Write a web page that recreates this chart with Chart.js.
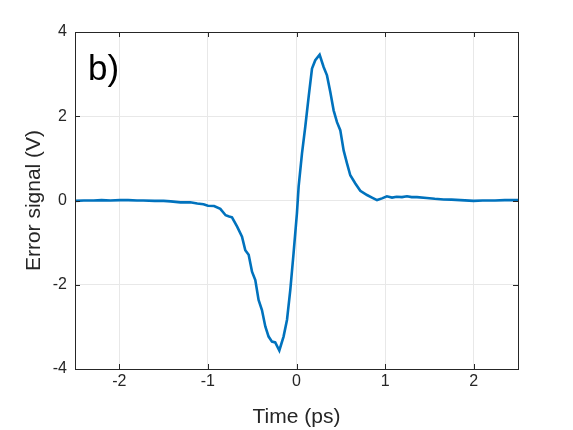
<!DOCTYPE html>
<html>
<head>
<meta charset="utf-8">
<script src="https://cdn.jsdelivr.net/npm/chart.js@4/dist/chart.umd.min.js"></script>
<style>
  html, body { margin: 0; padding: 0; background: #fff; }
  #wrap { width: 573px; height: 430px; }
</style>
</head>
<body>
<div id="wrap"><canvas id="c" width="573" height="430"></canvas></div>
<script>
// Time axis (ps) and error signal (V)
const times = [
  -2.5, -2.4, -2.29, -2.2, -2.1, -1.99, -1.9, -1.8, -1.73, -1.6, -1.5, -1.42, -1.31, -1.2, -1.12, -1.05, -1.0,
  -0.93, -0.86, -0.80, -0.76, -0.728, -0.67, -0.615, -0.578, -0.54, -0.502, -0.465, -0.428, -0.39, -0.352,
  -0.315, -0.277, -0.24, -0.194, -0.146, -0.107, -0.07, -0.033, 0.005, 0.024, 0.062, 0.099, 0.137, 0.175,
  0.212, 0.261, 0.306, 0.344, 0.381, 0.419, 0.457, 0.494, 0.532, 0.57, 0.607, 0.664, 0.72, 0.796, 0.852,
  0.909, 0.965, 1.02, 1.078, 1.13, 1.19, 1.247, 1.3, 1.36, 1.47, 1.56, 1.66, 1.75, 1.85, 2.0, 2.1, 2.24,
  2.35, 2.47, 2.5
];
const signal = [
  -0.01, 0.0, 0.0, 0.01, 0.0, 0.01, 0.01, 0.0, 0.0, -0.01, -0.01, -0.02, -0.045, -0.04, -0.07, -0.09, -0.125,
  -0.13, -0.2, -0.35, -0.38, -0.40, -0.62, -0.86, -1.18, -1.29, -1.69, -1.89, -2.36, -2.6, -2.99,
  -3.23, -3.35, -3.37, -3.56, -3.23, -2.83, -2.12, -1.25, -0.3, 0.33, 1.12, 1.75, 2.46, 3.13,
  3.33, 3.46, 3.17, 2.97, 2.58, 2.14, 1.86, 1.67, 1.19, 0.88, 0.6, 0.405, 0.23, 0.13, 0.07,
  0.01, 0.05, 0.1, 0.07, 0.09, 0.08, 0.1, 0.08, 0.08, 0.06, 0.04, 0.025, 0.02, 0.01, -0.01, 0.0, 0.0,
  0.01, 0.01, 0.01
];
const xTicks = [-2, -1, 0, 1, 2];
const yTicks = [-4, -2, 0, 2, 4];

const axisColor = '#262626';
const font = 'Liberation Sans, Arial, Helvetica, sans-serif';

// MATLAB-style box with inward ticks, plus the panel label
const boxPlugin = {
  id: 'box',
  afterDraw(chart) {
    const { ctx, chartArea: a, scales: { x, y } } = chart;
    ctx.save();
    ctx.strokeStyle = axisColor;
    ctx.lineWidth = 1;
    ctx.strokeRect(Math.round(a.left) + 0.5, Math.round(a.top) + 0.5,
      Math.round(a.right - a.left), Math.round(a.bottom - a.top));
    ctx.beginPath();
    xTicks.forEach(v => {
      const px = Math.round(x.getPixelForValue(v)) + 0.5;
      ctx.moveTo(px, a.bottom); ctx.lineTo(px, a.bottom - 5);
      ctx.moveTo(px, a.top); ctx.lineTo(px, a.top + 5);
    });
    yTicks.forEach(v => {
      const py = Math.round(y.getPixelForValue(v)) + 0.5;
      ctx.moveTo(a.left, py); ctx.lineTo(a.left + 5, py);
      ctx.moveTo(a.right, py); ctx.lineTo(a.right - 5, py);
    });
    ctx.stroke();
    ctx.fillStyle = '#000';
    ctx.font = '35px ' + font;
    ctx.textBaseline = 'alphabetic';
    ctx.fillText('b)', a.left + 13, a.top + 48);
    ctx.restore();
  }
};

new Chart(document.getElementById('c'), {
  type: 'line',
  data: {
    datasets: [{
      data: times.map((t, i) => ({ x: t, y: signal[i] })),
      borderColor: '#0072BD',
      borderWidth: 2.6,
      pointRadius: 0,
      tension: 0,
      fill: false
    }]
  },
  options: {
    responsive: false,
    animation: false,
    layout: { padding: { top: 32, right: 55, bottom: 0, left: 0 } },
    plugins: { legend: { display: false }, tooltip: { enabled: false } },
    scales: {
      x: {
        type: 'linear',
        min: -2.5, max: 2.5,
        afterBuildTicks: s => { s.ticks = xTicks.map(v => ({ value: v })); },
        afterFit: s => { s.height = 61; },
        grid: { color: '#e8e8e8', drawTicks: false },
        border: { color: axisColor },
        ticks: { color: axisColor, font: { family: font, size: 16 }, padding: 3 },
        title: { display: true, text: 'Time (ps)', color: axisColor,
          font: { family: font, size: 21 }, padding: { top: 0, bottom: 0 } }
      },
      y: {
        type: 'linear',
        min: -4, max: 4,
        afterBuildTicks: s => { s.ticks = yTicks.map(v => ({ value: v })); },
        afterFit: s => { s.width = 75; },
        grid: { color: '#e8e8e8', drawTicks: false },
        border: { color: axisColor },
        ticks: { color: axisColor, font: { family: font, size: 16 }, padding: 8 },
        title: { display: true, text: 'Error signal (V)', color: axisColor,
          font: { family: font, size: 21 }, padding: { top: 22, bottom: 0 } }
      }
    }
  },
  plugins: [boxPlugin]
});
</script>
</body>
</html>
